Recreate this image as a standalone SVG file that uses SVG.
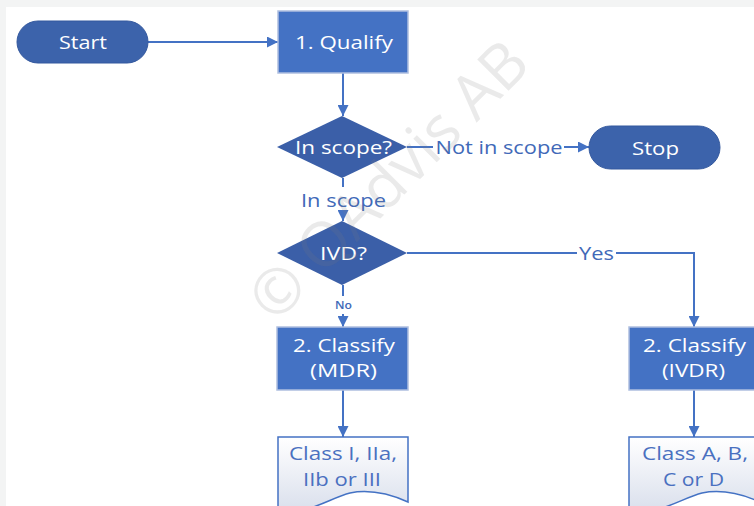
<svg xmlns="http://www.w3.org/2000/svg" width="754" height="506" viewBox="0 0 754 506">
  <style>
    .t { font-family: "Open Sans", "Liberation Sans", sans-serif; font-size: 19px; text-anchor: middle; }
    .w { fill: #ffffff; }
    .lbl { fill: #4169b8; }
    .doc-t { fill: #4a70c0; }
    .pill { fill: #3c63ab; stroke: #33589e; stroke-width: 1; }
    .box { fill: #4472c4; stroke: #aebfe0; stroke-width: 1.5; }
    .dia { fill: #3b5fa8; }
    .doc { fill: url(#docFill); stroke: #4472c4; stroke-width: 1.5; }
    .edge { fill: none; stroke: #4472c4; stroke-width: 2; }
    .arrow { marker-end: url(#head); }
    .mark { font-family: "Open Sans", "Liberation Sans", sans-serif; font-size: 62px; fill: #7f7f7f; fill-opacity: 0.16; text-anchor: middle; }
  </style>
  <defs>
    <marker id="head" viewBox="0 0 10 10" refX="10" refY="5" markerWidth="11" markerHeight="11" markerUnits="userSpaceOnUse" orient="auto">
      <path d="M0,0 L10,5 L0,10 Z" fill="#4472c4"/>
    </marker>
    <linearGradient id="docFill" x1="0" y1="0" x2="0" y2="1">
      <stop offset="0" stop-color="#ffffff"/>
      <stop offset="1" stop-color="#d9dfec"/>
    </linearGradient>
  </defs>

  <!-- page -->
  <rect x="0" y="0" width="754" height="506" fill="#f3f4f4"/>
  <rect x="6" y="7" width="748" height="499" fill="#ffffff"/>

  <!-- connectors -->
  <g id="connectors">
    <path class="edge arrow" d="M148,42 H278"/>
    <path class="edge arrow" d="M343,73 V116"/>
    <path class="edge" d="M407,147 H433"/>
    <text class="t lbl" x="499" y="154" textLength="127" lengthAdjust="spacingAndGlyphs">Not in scope</text>
    <path class="edge arrow" d="M564,147 H589"/>
    <path class="edge" d="M343,178 V187"/>
    <text class="t lbl" x="343.5" y="207" textLength="85" lengthAdjust="spacingAndGlyphs">In scope</text>
    <path class="edge arrow" d="M343,211 V221"/>
    <path class="edge" d="M407,253 H577"/>
    <text class="t lbl" x="596.5" y="260" textLength="35" lengthAdjust="spacingAndGlyphs">Yes</text>
    <path class="edge arrow" d="M616,253 H694 V327"/>
    <path class="edge" d="M343,285 V296"/>
    <text class="t lbl" x="343.5" y="309" style="font-size:11px;font-weight:600" textLength="17" lengthAdjust="spacingAndGlyphs">No</text>
    <path class="edge arrow" d="M343,314 V327"/>
    <path class="edge arrow" d="M343,390 V437"/>
    <path class="edge arrow" d="M694,390 V437"/>
  </g>

  <!-- nodes -->
  <g id="start">
    <rect class="pill" x="17" y="21" width="131" height="42" rx="21"/>
    <text class="t w" x="83" y="49" textLength="48" lengthAdjust="spacingAndGlyphs">Start</text>
  </g>
  <g id="qualify">
    <rect class="box" x="278" y="11" width="130" height="62"/>
    <text class="t w" x="344" y="49" textLength="98" lengthAdjust="spacingAndGlyphs">1. Qualify</text>
  </g>
  <g id="in-scope">
    <path class="dia" d="M277,147 L342,116 L407,147 L342,178 Z"/>
    <text class="t w" x="343.5" y="154" textLength="97" lengthAdjust="spacingAndGlyphs">In scope?</text>
  </g>
  <g id="stop">
    <rect class="pill" x="589" y="126" width="131" height="43" rx="21.5"/>
    <text class="t w" x="655.5" y="155" textLength="47" lengthAdjust="spacingAndGlyphs">Stop</text>
  </g>
  <g id="ivd">
    <path class="dia" d="M277,253 L342,221 L407,253 L342,285 Z"/>
    <text class="t w" x="343.5" y="260" textLength="47" lengthAdjust="spacingAndGlyphs">IVD?</text>
  </g>
  <g id="classify-mdr">
    <rect class="box" x="277" y="327" width="131" height="63"/>
    <text class="t w" x="344" y="352" textLength="102" lengthAdjust="spacingAndGlyphs">2. Classify</text>
    <text class="t w" x="343.5" y="377" textLength="67" lengthAdjust="spacingAndGlyphs">(MDR)</text>
  </g>
  <g id="classify-ivdr">
    <rect class="box" x="629" y="327" width="131" height="63"/>
    <text class="t w" x="694.5" y="352" textLength="103" lengthAdjust="spacingAndGlyphs">2. Classify</text>
    <text class="t w" x="693.5" y="377" textLength="63" lengthAdjust="spacingAndGlyphs">(IVDR)</text>
  </g>
  <g id="mdr-classes">
    <path class="doc" d="M278,437 H408 V502 C390,494 370,489 350,493 C330,498 305,516 278,512 Z"/>
    <text class="t doc-t" x="343" y="460" textLength="108" lengthAdjust="spacingAndGlyphs">Class I, IIa,</text>
    <text class="t doc-t" x="342" y="486" textLength="78" lengthAdjust="spacingAndGlyphs">IIb or III</text>
  </g>
  <g id="ivdr-classes">
    <path class="doc" d="M629,437 H760 V502 C742,494 722,489 702,493 C682,498 657,516 629,512 Z"/>
    <text class="t doc-t" x="695" y="460" textLength="106" lengthAdjust="spacingAndGlyphs">Class A, B,</text>
    <text class="t doc-t" x="693.5" y="486" textLength="61" lengthAdjust="spacingAndGlyphs">C or D</text>
  </g>

  <!-- copyright watermark -->
  <text class="mark" transform="translate(388,180) rotate(-45)" x="0" y="22">© QAdvis AB</text>
</svg>
